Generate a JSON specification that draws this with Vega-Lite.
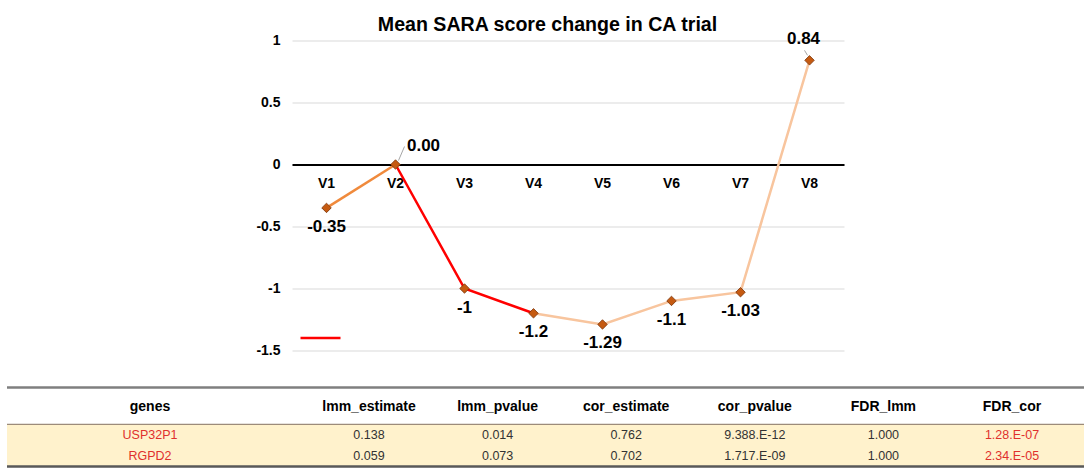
{
  "$schema": "https://vega.github.io/schema/vega-lite/v6.json",
  "background": "white",
  "padding": {"left": 5, "top": 14.5, "right": 0, "bottom": 0},
  "title": {"text": "Mean SARA score change in CA trial", "anchor": "middle", "fontSize": 19.6, "fontWeight": "bold", "font": "Liberation Sans", "color": "#000000", "offset": -5, "dx": 2},
  "config": {"view": {"stroke": null}, "font": "Liberation Sans", "concat": {"spacing": 0}},
  "datasets": {
    "scores": [
      {"visit": "V1", "score": -0.35, "label": "-0.35"},
      {"visit": "V2", "score": 0.0, "label": "0.00"},
      {"visit": "V3", "score": -1.0, "label": "-1"},
      {"visit": "V4", "score": -1.2, "label": "-1.2"},
      {"visit": "V5", "score": -1.29, "label": "-1.29"},
      {"visit": "V6", "score": -1.1, "label": "-1.1"},
      {"visit": "V7", "score": -1.03, "label": "-1.03"},
      {"visit": "V8", "score": 0.84, "label": "0.84"}
    ],
    "segments": [
      {"seg": "a", "visit": "V1", "score": -0.35},
      {"seg": "a", "visit": "V2", "score": 0.0},
      {"seg": "b", "visit": "V2", "score": 0.0},
      {"seg": "b", "visit": "V3", "score": -1.0},
      {"seg": "b", "visit": "V4", "score": -1.2},
      {"seg": "c", "visit": "V4", "score": -1.2},
      {"seg": "c", "visit": "V5", "score": -1.29},
      {"seg": "c", "visit": "V6", "score": -1.1},
      {"seg": "c", "visit": "V7", "score": -1.03},
      {"seg": "c", "visit": "V8", "score": 0.84}
    ],
    "table": [
      {"gene": "USP32P1", "row": 1, "lmm_estimate": "0.138", "lmm_pvalue": "0.014", "cor_estimate": "0.762", "cor_pvalue": "9.388.E-12", "FDR_lmm": "1.000", "FDR_cor": "1.28.E-07"},
      {"gene": "RGPD2", "row": 2, "lmm_estimate": "0.059", "lmm_pvalue": "0.073", "cor_estimate": "0.702", "cor_pvalue": "1.717.E-09", "FDR_lmm": "1.000", "FDR_cor": "2.34.E-05"}
    ]
  },
  "spacing": 28,
  "vconcat": [
    {
      "spacing": 0,
      "hconcat": [
        {"width": 247.5, "height": 310, "data": {"values": []}, "mark": "point"},
        {
          "width": 552,
          "height": 310,
          "data": {"name": "scores"},
          "encoding": {
            "x": {"field": "visit", "type": "nominal", "sort": ["V1","V2","V3","V4","V5","V6","V7","V8"],
              "axis": {"title": null, "orient": "bottom", "offset": -186, "domainColor": "#000000", "domainWidth": 2, "ticks": false, "labelAngle": 0, "labelFontSize": 14, "labelFontWeight": "bold", "labelColor": "#000000", "labelPadding": 12, "grid": false}},
            "y": {"field": "score", "type": "quantitative",
              "scale": {"domain": [-1.5, 1], "nice": false, "zero": false},
              "axis": {"title": null, "values": [-1.5, -1, -0.5, 0, 0.5, 1], "labelExpr": "datum.value + ''", "domain": false, "ticks": false, "labelFontSize": 14, "labelFontWeight": "bold", "labelColor": "#000000", "labelPadding": 12, "gridColor": "#D9D9D9", "gridWidth": 1}}
          },
          "layer": [
            {
              "data": {"name": "segments"},
              "mark": {"type": "line", "strokeWidth": 2.5},
              "encoding": {
                "color": {"field": "seg", "type": "nominal",
                  "scale": {"domain": ["a", "b", "c"], "range": ["#F08A3C", "#FF0000", "#F8C59E"]},
                  "legend": {"values": ["b"], "orient": "none", "legendX": 292, "legendY": 276, "title": null, "symbolType": "stroke", "symbolSize": 1600, "symbolStrokeWidth": 2.5, "labelExpr": "''", "padding": 0, "labelFontSize": 1}}
              }
            },
            {
              "transform": [{"filter": "datum.visit === 'V2'"}],
              "mark": {"type": "rule", "stroke": "#A6A6A6", "strokeWidth": 1, "xOffset": 3, "yOffset": -4, "x2Offset": 9, "y2Offset": -18},
              "encoding": {"x2": {"field": "visit"}, "y2": {"field": "score"}}
            },
            {
              "transform": [{"filter": "datum.visit === 'V8'"}],
              "mark": {"type": "rule", "stroke": "#A6A6A6", "strokeWidth": 1, "xOffset": -2, "yOffset": -5, "x2Offset": -5, "y2Offset": -10},
              "encoding": {"x2": {"field": "visit"}, "y2": {"field": "score"}}
            },
            {
              "mark": {"type": "point", "shape": "diamond", "filled": true, "size": 90, "fill": "#C55A11", "stroke": "#7A3309", "strokeWidth": 0.8, "opacity": 1}
            },
            {
              "transform": [{"filter": "datum.visit !== 'V2' && datum.visit !== 'V8'"}],
              "mark": {"type": "text", "dy": 19, "fontSize": 17, "fontWeight": "bold", "color": "#000000"},
              "encoding": {"text": {"field": "label"}}
            },
            {
              "transform": [{"filter": "datum.visit === 'V2'"}],
              "mark": {"type": "text", "dx": 28, "dy": -19, "fontSize": 17, "fontWeight": "bold", "color": "#000000"},
              "encoding": {"text": {"field": "label"}}
            },
            {
              "transform": [{"filter": "datum.visit === 'V8'"}],
              "mark": {"type": "text", "dx": -6, "dy": -21, "fontSize": 17, "fontWeight": "bold", "color": "#000000"},
              "encoding": {"text": {"field": "label"}}
            }
          ]
        }
      ]
    },
    {
      "spacing": 0,
      "bounds": "flush",
      "hconcat": [
        {
          "width": 290,
          "height": 79,
          "data": {"name": "table"},
          "layer": [
            {
              "transform": [{"filter": "datum.row == 1"}],
              "mark": {"type": "rect", "fill": "#FFF2CC"},
              "encoding": {"y": {"datum": 0.5, "scale": {"domain": [-1.25, 2.5], "reverse": true, "nice": false, "zero": false}, "axis": null}, "y2": {"datum": 2.5}}
            },
            {
              "transform": [{"filter": "datum.row == 1"}],
              "mark": {"type": "rule", "stroke": "#7F7F7F", "strokeWidth": 2.5},
              "encoding": {"y": {"datum": -1.25}}
            },
            {
              "transform": [{"filter": "datum.row == 1"}],
              "mark": {"type": "rule", "stroke": "#9C8B7A", "strokeWidth": 1.2},
              "encoding": {"y": {"datum": 0.5}}
            },
            {
              "transform": [{"filter": "datum.row == 1"}],
              "mark": {"type": "rule", "stroke": "#595959", "strokeWidth": 2.5},
              "encoding": {"y": {"datum": 2.5}}
            },
            {
              "transform": [{"filter": "datum.row == 1"}],
              "mark": {"type": "text", "dy": -7, "dx": -2, "fontSize": 14, "fontWeight": "bold", "color": "#000000"},
              "encoding": {"y": {"datum": 0}, "text": {"value": "genes"}}
            },
            {
              "mark": {"type": "text", "fontSize": 12.5, "dx": -2, "color": "#E0302C"},
              "encoding": {"y": {"field": "row", "type": "quantitative"}, "text": {"field": "gene"}}
            }
          ]
        },
        {
          "width": 787,
          "height": 79,
          "data": {"name": "table"},
          "transform": [{"fold": ["lmm_estimate", "lmm_pvalue", "cor_estimate", "cor_pvalue", "FDR_lmm", "FDR_cor"], "as": ["key", "value"]}],
          "layer": [
            {
              "transform": [{"filter": "datum.row == 1 && datum.key === 'FDR_cor'"}],
              "mark": {"type": "rect", "fill": "#FFF2CC"},
              "encoding": {"y": {"datum": 0.5, "scale": {"domain": [-1.25, 2.5], "reverse": true, "nice": false, "zero": false}, "axis": null}, "y2": {"datum": 2.5}}
            },
            {
              "transform": [{"filter": "datum.row == 1 && datum.key === 'FDR_cor'"}],
              "mark": {"type": "rule", "stroke": "#7F7F7F", "strokeWidth": 2.5},
              "encoding": {"y": {"datum": -1.25}}
            },
            {
              "transform": [{"filter": "datum.row == 1 && datum.key === 'FDR_cor'"}],
              "mark": {"type": "rule", "stroke": "#9C8B7A", "strokeWidth": 1.2},
              "encoding": {"y": {"datum": 0.5}}
            },
            {
              "transform": [{"filter": "datum.row == 1 && datum.key === 'FDR_cor'"}],
              "mark": {"type": "rule", "stroke": "#595959", "strokeWidth": 2.5},
              "encoding": {"y": {"datum": 2.5}}
            },
            {
              "transform": [{"filter": "datum.row == 1"}],
              "mark": {"type": "text", "dy": -7, "fontSize": 14, "fontWeight": "bold", "color": "#000000"},
              "encoding": {
                "x": {"field": "key", "type": "nominal", "sort": ["lmm_estimate", "lmm_pvalue", "cor_estimate", "cor_pvalue", "FDR_lmm", "FDR_cor"], "scale": {"padding": 0.56}, "axis": null},
                "y": {"datum": 0},
                "text": {"field": "key"}
              }
            },
            {
              "mark": {"type": "text", "fontSize": 12.5},
              "encoding": {
                "x": {"field": "key", "type": "nominal", "sort": ["lmm_estimate", "lmm_pvalue", "cor_estimate", "cor_pvalue", "FDR_lmm", "FDR_cor"], "axis": null},
                "y": {"field": "row", "type": "quantitative"},
                "text": {"field": "value"},
                "color": {"condition": {"test": "datum.key === 'FDR_cor'", "value": "#E0302C"}, "value": "#333333"}
              }
            }
          ]
        }
      ]
    }
  ]
}
